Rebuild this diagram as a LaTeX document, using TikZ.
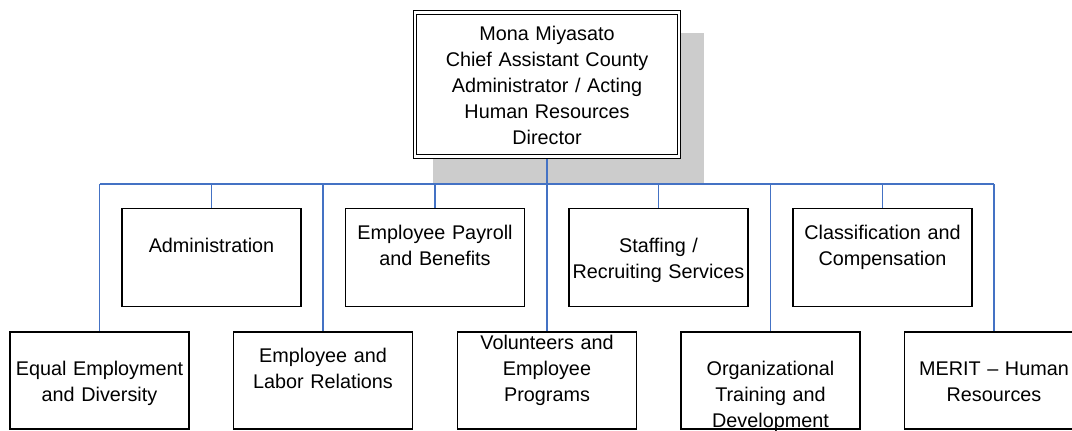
\documentclass[tikz,border=0pt]{standalone}
\usepackage{fontspec}
\setmainfont{Liberation Sans}
\usepackage{tikz}

\definecolor{busblue}{HTML}{4472C4}
\definecolor{shadowgray}{HTML}{CCCCCC}
\newcommand\topstrut{\rule{0pt}{23pt}}

\begin{document}
\begin{tikzpicture}[x=1pt, y=-1pt,
  font=\fontsize{19.8}{26}\selectfont,
  unit/.style={draw=black, line width=1.2pt, fill=white, align=center,
    text width=177pt, inner xsep=1pt, inner ysep=0pt, minimum height=98pt,
    execute at begin node=\topstrut, execute at end node=\strut},
  tall/.style={inner ysep=-6pt},
  short/.style={},
  director/.style={draw=black, double, double distance=2.4pt, line width=1.1pt,
    fill=white, align=center, text width=260pt, inner xsep=2pt, inner ysep=0pt,
    minimum height=144pt,
    execute at begin node=\topstrut, execute at end node=\strut},
  link/.style={draw=busblue, line width=1.2pt}]
  \useasboundingbox (0,0) rectangle (1072,431);
  \clip (0,0) rectangle (1072,431);

  % Shadow
  \fill[shadowgray] (433,33) rectangle (704,183);

  % Director
  \node[director] (boss) at (547,84.5)
    {Mona Miyasato\\Chief Assistant County\\Administrator / Acting\\Human Resources\\Director};

  % Upper row
  \foreach \name/\x/\txt in {admin/211.5/{Administration\\},
      pay/435/{Employee Payroll\\and Benefits\\},
      staff/658.5/{Staffing /\\Recruiting Services},
      class/882.5/{Classification and\\Compensation\\}} {
    \node[unit] (\name) at (\x,257.5) {\txt};
  }

  % Lower row
  \foreach \name/\x/\opt/\txt in {eed/99.5/short/{Equal Employment\\and Diversity},
      elr/323/short/{Employee and\\Labor Relations\\},
      vol/547/tall/{Volunteers and\\Employee\\Programs\\},
      org/770.5/tall/{\\Organizational\\Training and\\Development},
      merit/994/short/{MERIT – Human\\Resources}} {
    \node[unit, minimum height=97pt, \opt] (\name) at (\x,380.5) {\txt};
  }

  % Bus
  \coordinate (bus) at (547,184);
  \draw[link] (eed.north |- bus) -- (merit.north |- bus);
  \draw[link, shorten <=2.4pt] (boss.south) -- (vol.north);
  \foreach \name in {eed,admin,elr,pay,staff,org,class,merit} {
    \draw[link] (\name.north |- bus) -- (\name.north);
  }

\end{tikzpicture}
\end{document}
